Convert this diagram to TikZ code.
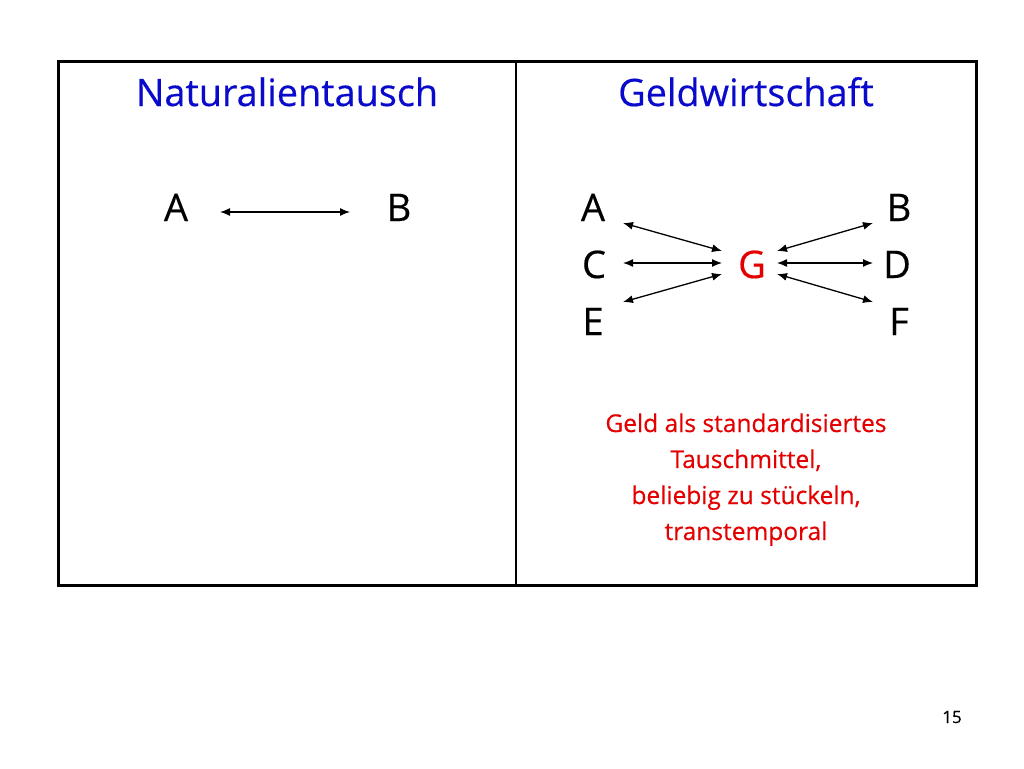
\documentclass[tikz,border=0pt]{standalone}
\usepackage{fontspec}
\setmainfont{Open Sans}[FakeBold=0.4]
\usetikzlibrary{arrows.meta}
\definecolor{ttlblue}{RGB}{10,10,205}
\definecolor{txtred}{RGB}{228,0,0}
\tikzset{
  ttl/.style={anchor=base,text=ttlblue,font=\fontsize{37.8}{37.8}\selectfont,inner sep=0pt},
  letter/.style={anchor=base,font=\fontsize{38}{38}\selectfont,inner sep=0pt},
  arr/.style={{Latex[length=10pt,width=8pt]}-{Latex[length=10pt,width=8pt]},line width=1.3pt},
  note/.style={anchor=base,text=txtred,font=\fontsize{24.5}{24.5}\selectfont,inner sep=0pt}
}
\begin{document}
\begin{tikzpicture}[x=1pt,y=-1pt]
\useasboundingbox[fill=white] (0,0) rectangle (1024,768);
\draw[line width=3pt] (58,61) rectangle (976,585);
\draw[line width=1.5pt] (516,61) -- (516,585);
\node[ttl] (t1) at (287,106) {Naturalientausch};
\node[ttl] (t2) at (746,106) {Geldwirtschaft};
% left panel
\node[letter] (lA) at (176,221) {A};
\node[letter] (lB) at (399,221) {B};
\coordinate (la) at (220,212);
\coordinate (lb) at (350,212);
\draw[arr] (la) -- (lb);
% right panel
\node[letter] (rA) at (593,221) {A};
\node[letter] (rB) at (899,221) {B};
\node[letter] (rC) at (594,278) {C};
\node[letter] (rD) at (897,278) {D};
\node[letter] (rE) at (593,335) {E};
\node[letter] (rF) at (899,335) {F};
\node[letter,text=txtred] (G) at (752,278) {G};
\coordinate (a1) at (623,223); \coordinate (g1) at (722,251);
\coordinate (c1) at (623,263); \coordinate (g2) at (722,263);
\coordinate (e1) at (623,302); \coordinate (g3) at (722,274);
\coordinate (b1) at (873,223); \coordinate (g4) at (777,251);
\coordinate (d1) at (873,263); \coordinate (g5) at (777,263);
\coordinate (f1) at (873,302); \coordinate (g6) at (777,274);
\draw[arr] (a1) -- (g1);
\draw[arr] (c1) -- (g2);
\draw[arr] (e1) -- (g3);
\draw[arr] (g4) -- (b1);
\draw[arr] (g5) -- (d1);
\draw[arr] (g6) -- (f1);
\node[note] (n1) at (746,432) {Geld als standardisiertes};
\node[note] (n2) at (746,468) {Tauschmittel,};
\node[note] (n3) at (746,504) {beliebig zu stückeln,};
\node[note] (n4) at (746,540) {transtemporal};
\node[anchor=base,inner sep=0pt,font=\fontsize{17}{17}\selectfont] (pg) at (952,723) {15};
\end{tikzpicture}
\end{document}
